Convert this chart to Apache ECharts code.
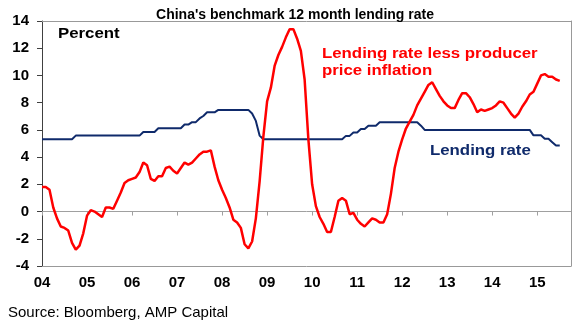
<!DOCTYPE html>
<html>
<head>
<meta charset="utf-8">
<script src="https://cdn.jsdelivr.net/npm/echarts@6/dist/echarts.min.js"></script>
<style>
  html, body { margin: 0; padding: 0; background: #fff; }
  #main { width: 580px; height: 328px; }
</style>
</head>
<body>
<div id="main"></div>
<script>
// monthly data, Jan 2004 .. Jul 2015
var yearLabels = ['04', '05', '06', '07', '08', '09', '10', '11', '12', '13', '14', '15']

var lendingRate = [
  5.31, 5.31, 5.31, 5.31, 5.31, 5.31, 5.31, 5.31, 5.31,
  5.58, 5.58, 5.58, 5.58, 5.58, 5.58, 5.58, 5.58, 5.58, 5.58, 5.58, 5.58, 5.58, 5.58, 5.58, 5.58, 5.58, 5.58,
  5.85, 5.85, 5.85, 5.85,
  6.12, 6.12, 6.12, 6.12, 6.12, 6.12, 6.12,
  6.39, 6.39, 6.57, 6.57, 6.84, 7.02, 7.29, 7.29, 7.29,
  7.47, 7.47, 7.47, 7.47, 7.47, 7.47, 7.47, 7.47, 7.47,
  7.20, 6.66, 5.58,
  5.31, 5.31, 5.31, 5.31, 5.31, 5.31, 5.31, 5.31, 5.31, 5.31, 5.31,
  5.31, 5.31, 5.31, 5.31, 5.31, 5.31, 5.31, 5.31, 5.31, 5.31, 5.31,
  5.56, 5.56, 5.81, 5.81, 6.06, 6.06, 6.31, 6.31, 6.31,
  6.56, 6.56, 6.56, 6.56, 6.56, 6.56, 6.56, 6.56, 6.56, 6.56, 6.56,
  6.31,
  6.00, 6.00, 6.00, 6.00, 6.00, 6.00, 6.00, 6.00, 6.00, 6.00,
  6.00, 6.00, 6.00, 6.00, 6.00, 6.00, 6.00, 6.00, 6.00, 6.00,
  6.00, 6.00, 6.00, 6.00, 6.00, 6.00, 6.00, 6.00, 6.00,
  5.60, 5.60, 5.60, 5.35, 5.35, 5.10, 4.85, 4.85
]

var realRate = [
  1.8, 1.8, 1.6, 0.3, -0.5, -1.1, -1.2, -1.4, -2.3, -2.8,
  -2.5, -1.6, -0.3, 0.1, 0.0, -0.2, -0.4, 0.3, 0.3, 0.2,
  0.8, 1.4, 2.1, 2.3, 2.4, 2.5, 2.9, 3.6, 3.4, 2.4,
  2.25, 2.6, 2.6, 3.2, 3.3, 3.0, 2.8, 3.2, 3.6, 3.45,
  3.6, 3.9, 4.2, 4.4, 4.4, 4.5, 3.3, 2.3, 1.6, 1.0,
  0.3, -0.6, -0.8, -1.2, -2.4, -2.7, -2.2, -0.5, 2.2, 5.5,
  8.1, 9.1, 10.7, 11.5, 12.1, 12.8, 13.4, 13.4, 12.7, 11.8,
  9.7, 5.3, 2.0, 0.4, -0.4, -0.9, -1.5, -1.5, -0.4, 0.8,
  1.0, 0.8, -0.2, -0.1, -0.6, -0.9, -1.1, -0.8, -0.5, -0.6,
  -0.8, -0.8, -0.2, 1.3, 3.2, 4.4, 5.3, 6.1, 6.6, 7.1,
  7.8, 8.3, 8.8, 9.3, 9.5, 9.0, 8.5, 8.1, 7.8, 7.6,
  7.6, 8.2, 8.7, 8.7, 8.4, 7.9, 7.3, 7.5, 7.4, 7.5,
  7.6, 7.8, 8.1, 8.0, 7.6, 7.2, 6.9, 7.2, 7.7, 8.1,
  8.6, 8.8, 9.4, 10.0, 10.1, 9.9, 9.9, 9.7, 9.6
]

var font = 'Liberation Sans, Arial, sans-serif'
var borderGray = '#999999'
var yearTicks = yearLabels.map(function(d, i) { return i * 12 })

function pairs(arr) {
  return arr.map(function(v, i) { return [i, v] })
}

var myChart = echarts.init(document.getElementById('main'))
var option = {
  animation: false,
  title: {
    text: "China's benchmark 12 month lending rate",
    left: 290,
    textAlign: 'center',
    top: 3,
    textStyle: { fontFamily: font, fontSize: 14, fontWeight: 'bold', color: '#000' }
  },
  grid: { left: 42, right: 9, top: 21, bottom: 62 },
  xAxis: [
    {
      type: 'value', min: 0, max: 141,
      axisLine: { onZero: true, lineStyle: { color: '#a0a0a0', width: 1 } },
      axisTick: { show: true, length: 4, customValues: yearTicks, lineStyle: { color: '#a0a0a0' } },
      axisLabel: { show: false },
      splitLine: { show: false }
    },
    {
      type: 'value', min: 0, max: 141, position: 'bottom',
      axisLine: { show: true, onZero: false, lineStyle: { color: borderGray } },
      axisTick: { show: false },
      axisLabel: {
        customValues: yearTicks,
        formatter: function(v) { return yearLabels[Math.round(v / 12)] || '' },
        fontFamily: font, fontSize: 15, fontWeight: 'bold', color: '#000', margin: 9
      },
      splitLine: { show: false }
    },
    {
      type: 'value', min: 0, max: 141, position: 'top',
      axisLine: { show: true, onZero: false, lineStyle: { color: borderGray } },
      axisTick: { show: false }, axisLabel: { show: false }, splitLine: { show: false }
    }
  ],
  yAxis: [
    {
      type: 'value', min: -4, max: 14, interval: 2,
      axisLine: { show: true, onZero: false, lineStyle: { color: '#404040' } },
      axisTick: { show: true, length: 5, lineStyle: { color: '#404040' } },
      axisLabel: { fontFamily: font, fontSize: 15, fontWeight: 'bold', color: '#000', margin: 13 },
      splitLine: { show: false }
    },
    {
      type: 'value', min: -4, max: 14, interval: 2, position: 'right',
      axisLine: { show: true, onZero: false, lineStyle: { color: borderGray } },
      axisTick: { show: false }, axisLabel: { show: false }, splitLine: { show: false }
    }
  ],
  series: [
    {
      name: 'Lending rate', type: 'line', xAxisIndex: 0, yAxisIndex: 0,
      data: pairs(lendingRate), showSymbol: false,
      lineStyle: { color: '#0f2a6b', width: 2 }
    },
    {
      name: 'Lending rate less producer price inflation', type: 'line', xAxisIndex: 0, yAxisIndex: 0,
      data: pairs(realRate), showSymbol: false,
      lineStyle: { color: '#ff0000', width: 2.5 }
    }
  ],
  graphic: [
    { type: 'text', left: 58, top: 27, scaleX: 1.2,
      style: { text: 'Percent', font: 'bold 14px ' + font, fill: '#000' } },
    { type: 'text', left: 322, top: 47, scaleX: 1.2,
      style: { text: 'Lending rate less producer', font: 'bold 14px ' + font, fill: '#ff0000' } },
    { type: 'text', left: 322, top: 64, scaleX: 1.2,
      style: { text: 'price inflation', font: 'bold 14px ' + font, fill: '#ff0000' } },
    { type: 'text', left: 430, top: 144, scaleX: 1.2,
      style: { text: 'Lending rate', font: 'bold 14px ' + font, fill: '#0f2a6b' } },
    { type: 'text', left: 8, top: 305,
      style: { text: 'Source: Bloomberg, AMP Capital', font: '15px ' + font, fill: '#000' } }
  ]
}
myChart.setOption(option)
</script>
</body>
</html>
